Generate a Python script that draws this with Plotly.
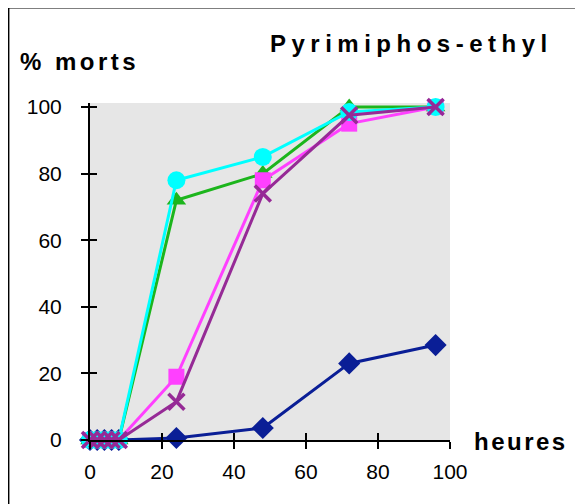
import plotly.graph_objects as go

# hours after exposure
heures = [0, 2, 4, 6, 8, 24, 48, 72, 96]

# % dead, one list per series
serie_bleu = [0, 0, 0, 0, 0, 0.6, 3.6, 23, 28.5]
serie_vert = [0, 0, 0, 0, 0, 72, 80, 100, 100]
serie_rose = [0, 0, 0, 0, 0, 19, 78, 95, 100]
serie_cyan = [0, 0, 0, 0, 0, 78, 85, 98.5, 100]
serie_violet = [0, 0, 0, 0, 0, 11.5, 74, 97.5, 100]

ticks_x = [0, 20, 40, 60, 80, 100]
ticks_y = [0, 20, 40, 60, 80, 100]

series = [
    (serie_bleu, "#0a1e96", dict(symbol="diamond", size=17)),
    (serie_vert, "#1cb51c", dict(symbol="triangle-up", size=17)),
    (serie_rose, "#ff40ff", dict(symbol="square", size=16)),
    (serie_cyan, "#00ffff", dict(symbol="circle", size=18)),
    (serie_violet, "#962a96", dict(symbol="x-thin", size=16, line=dict(width=3.5, color="#962a96"))),
]

fig = go.Figure()
for vals, col, mk in series:
    fig.add_trace(go.Scatter(x=heures, y=vals, mode="lines+markers",
                             line=dict(color=col, width=3),
                             marker=dict(color=col, **mk),
                             cliponaxis=False, showlegend=False))

# empty trace to carry the inside half of the cross ticks
fig.add_trace(go.Scatter(x=[None], y=[None], xaxis="x2", yaxis="y2", showlegend=False))

xr = [0, 100]
yr = [0, 101.2]
lbl = dict(family="Liberation Sans, Arial", size=21, color="black")

# the page adds 8px of body margin, so the margins are shifted to compensate
fig.update_layout(
    width=583, height=504,
    margin=dict(l=82, r=141, t=95, b=72),
    paper_bgcolor="white", plot_bgcolor="#e6e6e6",
    xaxis=dict(range=xr, tickvals=ticks_x, ticks="outside", ticklen=7, tickwidth=2,
               tickcolor="black", showline=True, linecolor="black", linewidth=2,
               showgrid=False, zeroline=False, tickfont=lbl, ticklabelstandoff=5),
    yaxis=dict(range=yr, tickvals=ticks_y, ticks="outside", ticklen=7, tickwidth=2,
               tickcolor="black", showline=True, linecolor="black", linewidth=2,
               showgrid=False, zeroline=False, tickfont=lbl, ticklabelstandoff=15),
    xaxis2=dict(range=xr, tickvals=ticks_x, overlaying="x", anchor="y2", side="bottom",
                ticks="inside", ticklen=7, tickwidth=2, tickcolor="black",
                showticklabels=False, showgrid=False, zeroline=False, showline=False),
    yaxis2=dict(range=yr, tickvals=ticks_y, overlaying="y", anchor="x2", side="left",
                ticks="inside", ticklen=7, tickwidth=2, tickcolor="black",
                showticklabels=False, showgrid=False, zeroline=False, showline=False),
)

txt = dict(family="Liberation Sans, Arial", size=24, color="black")
fig.add_annotation(text='<b><span style="letter-spacing:5.5px">Pyrimiphos-ethyl</span></b>',
                   xref="paper", yref="paper", x=1.292, y=1.178,
                   xanchor="right", yanchor="middle", showarrow=False, font=txt)
fig.add_annotation(text='<b><span style="letter-spacing:3.5px">% morts</span></b>',
                   xref="paper", yref="paper", x=-0.2, y=1.122,
                   xanchor="left", yanchor="middle", showarrow=False, font=txt)
fig.add_annotation(text='<b><span style="letter-spacing:2.5px">heures</span></b>',
                   xref="paper", yref="paper", x=1.061, y=-0.003,
                   xanchor="left", yanchor="middle", showarrow=False, font=txt)

# frame around the figure (left and top edges visible)
fig.add_shape(type="line", xref="paper", yref="paper", x0=-0.228, x1=-0.228, y0=-0.3, y1=1.285,
              line=dict(color="black", width=3))
fig.add_shape(type="line", xref="paper", yref="paper", x0=-0.228, x1=1.5, y0=1.285, y1=1.285,
              line=dict(color="black", width=3))

fig.write_html("out.html")
